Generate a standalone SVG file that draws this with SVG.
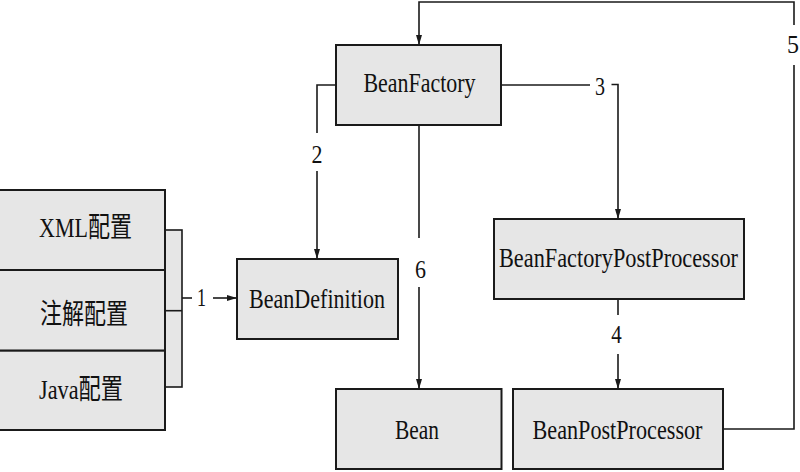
<svg xmlns="http://www.w3.org/2000/svg" width="800" height="472" viewBox="0 0 800 472">
<style>
.box{fill:#e6e6e6;stroke:#1a1a1a;stroke-width:2}
.t{font-family:'Liberation Serif','Times New Roman','DejaVu Serif','Noto Sans CJK SC',serif;font-size:28px;fill:#111;text-anchor:middle}
.n{font-family:'Liberation Serif','Times New Roman','DejaVu Serif',serif;font-size:26px;fill:#111;text-anchor:middle}
.ln{fill:none;stroke:#1a1a1a;stroke-width:1.6}
</style>
<defs>
<marker id="ah" viewBox="0 0 10 6" refX="10" refY="3" markerWidth="10" markerHeight="6" markerUnits="userSpaceOnUse" orient="auto">
<path d="M0,0 L10,3 L0,6 Z" fill="#1a1a1a"/>
</marker>
</defs>
<rect width="800" height="472" fill="#fff"/>
<g id="connectors">
<rect x="165" y="230" width="17" height="157" fill="#e6e6e6" stroke="#1a1a1a" stroke-width="1.6"/>
<line class="ln" x1="165" y1="310.7" x2="182" y2="310.7"/>
<line class="ln" x1="182" y1="298" x2="192" y2="298"/>
<text class="n" x="201.5" y="306" textLength="9" lengthAdjust="spacingAndGlyphs">1</text>
<line class="ln" x1="213" y1="298" x2="237" y2="298" marker-end="url(#ah)"/>
<polyline class="ln" points="336,85 317,85 317,133"/>
<text class="n" x="317" y="162.5" textLength="11" lengthAdjust="spacingAndGlyphs">2</text>
<line class="ln" x1="317" y1="171" x2="317" y2="259" marker-end="url(#ah)"/>
<line class="ln" x1="501" y1="85" x2="590" y2="85"/>
<text class="n" x="600" y="95" textLength="10" lengthAdjust="spacingAndGlyphs">3</text>
<polyline class="ln" points="611.5,84.5 618,84.5 618,219" marker-end="url(#ah)"/>
<line class="ln" x1="618" y1="299" x2="618" y2="315"/>
<text class="n" x="616.5" y="343" textLength="10.5" lengthAdjust="spacingAndGlyphs">4</text>
<line class="ln" x1="618" y1="354" x2="618" y2="389" marker-end="url(#ah)"/>
<polyline class="ln" points="723,429 794,429 794,65"/>
<text class="n" x="793" y="53" textLength="12" lengthAdjust="spacingAndGlyphs">5</text>
<polyline class="ln" points="794,25 794,2 419,2 419,45" marker-end="url(#ah)"/>
<line class="ln" x1="419" y1="125" x2="419" y2="238"/>
<text class="n" x="420.5" y="278" textLength="11" lengthAdjust="spacingAndGlyphs">6</text>
<line class="ln" x1="419" y1="287" x2="419" y2="389" marker-end="url(#ah)"/>
</g>
<g id="xml">
<rect class="box" x="-1" y="190" width="166" height="80"/>
<text class="t" x="85.5" y="237" textLength="93" lengthAdjust="spacingAndGlyphs">XML配置</text>
</g>
<g id="annotation">
<rect class="box" x="-1" y="270" width="166" height="80.7"/>
<text class="t" x="84" y="324" textLength="88" lengthAdjust="spacingAndGlyphs">注解配置</text>
</g>
<g id="java">
<rect class="box" x="-1" y="350.7" width="166" height="79.3"/>
<text class="t" x="81" y="399" textLength="84" lengthAdjust="spacingAndGlyphs">Java配置</text>
</g>
<g id="beanFactory">
<rect class="box" x="336" y="45" width="165" height="80"/>
<text class="t" x="419.5" y="92" textLength="112" lengthAdjust="spacingAndGlyphs">BeanFactory</text>
</g>
<g id="beanDefinition">
<rect class="box" x="237" y="259" width="161" height="80"/>
<text class="t" x="317" y="308" textLength="136" lengthAdjust="spacingAndGlyphs">BeanDefinition</text>
</g>
<g id="beanFactoryPostProcessor">
<rect class="box" x="494" y="219" width="250" height="80"/>
<text class="t" x="618.5" y="267" textLength="239" lengthAdjust="spacingAndGlyphs">BeanFactoryPostProcessor</text>
</g>
<g id="bean">
<rect class="box" x="336" y="389" width="165.5" height="80"/>
<text class="t" x="417" y="439" textLength="44" lengthAdjust="spacingAndGlyphs">Bean</text>
</g>
<g id="beanPostProcessor">
<rect class="box" x="513" y="389" width="210" height="80"/>
<text class="t" x="617.5" y="439" textLength="170" lengthAdjust="spacingAndGlyphs">BeanPostProcessor</text>
</g>
</svg>
